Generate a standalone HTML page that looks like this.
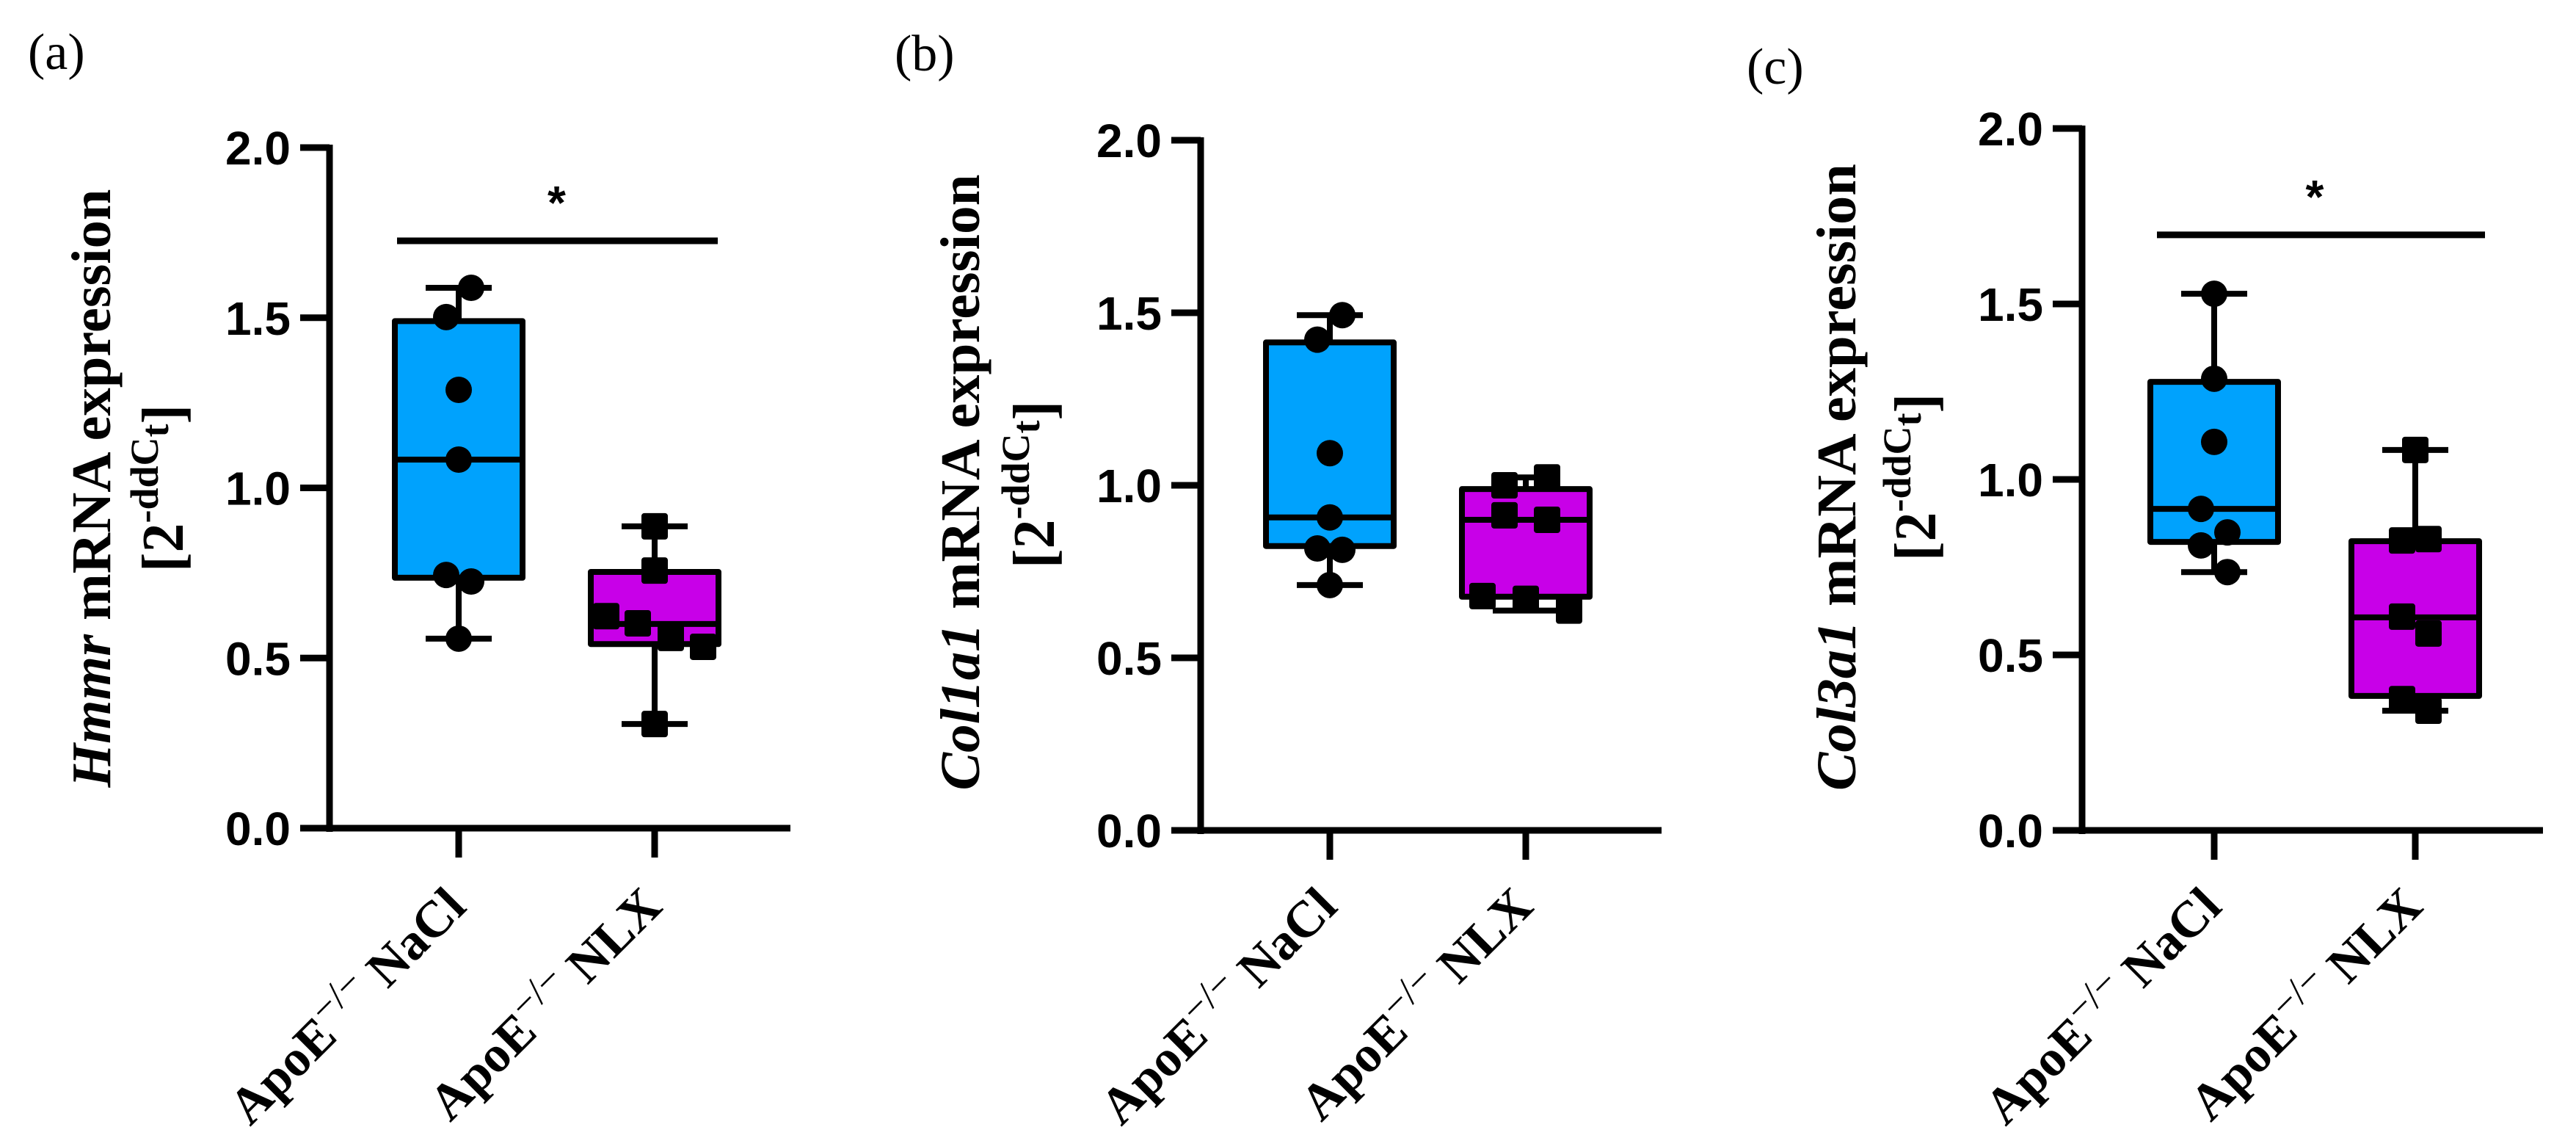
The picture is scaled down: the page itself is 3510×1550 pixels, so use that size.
<!DOCTYPE html>
<html>
<head>
<meta charset="utf-8">
<style>
html,body{margin:0;padding:0;background:#fff;}
svg{display:block;}
.tick{font-family:"Liberation Sans",Arial,sans-serif;font-weight:bold;font-size:64px;}
.ttl{font-family:"Liberation Serif","Times New Roman",serif;font-weight:bold;font-size:76px;}
.sub{font-family:"Liberation Serif","Times New Roman",serif;font-weight:bold;font-size:80px;}
.xl{font-family:"Liberation Serif","Times New Roman",serif;font-weight:bold;font-size:70px;}
.pl{font-family:"Liberation Serif","Times New Roman",serif;font-size:70px;}
</style>
</head>
<body>
<svg id="fig" width="3510" height="1550" viewBox="0 0 3510 1550" xmlns="http://www.w3.org/2000/svg"></svg>
<script>
// ---- data ----
const categories = ["NaCl", "NLX"];
const yTicks = [0, 0.5, 1.0, 1.5, 2.0];
const yTickLabels = ["0.0", "0.5", "1.0", "1.5", "2.0"];

const hmmrNaCl = [1.588, 1.502, 1.288, 1.083, 0.744, 0.725, 0.557];
const hmmrNaClBox = [0.557, 0.736, 1.083, 1.490, 1.588];
const hmmrNLX = [0.887, 0.757, 0.623, 0.602, 0.559, 0.533, 0.306];
const hmmrNLXBox = [0.306, 0.541, 0.600, 0.753, 0.887];

const col1NaCl = [1.493, 1.422, 1.093, 0.907, 0.817, 0.813, 0.711];
const col1NaClBox = [0.711, 0.824, 0.907, 1.414, 1.493];
const col1NLX = [1.000, 1.023, 0.913, 0.900, 0.679, 0.671, 0.637];
const col1NLXBox = [0.637, 0.677, 0.900, 0.989, 1.023];

const col3NaCl = [1.529, 1.287, 1.107, 0.916, 0.849, 0.812, 0.736];
const col3NaClBox = [0.736, 0.822, 0.916, 1.278, 1.529];
const col3NLX = [1.084, 0.826, 0.830, 0.609, 0.561, 0.374, 0.341];
const col3NLXBox = [0.341, 0.383, 0.607, 0.824, 1.084];

const sigA = 1.726;
const sigC = 1.697;

// ---- layout ----
const NS = "http://www.w3.org/2000/svg";
const svg = document.getElementById("fig");
function mk(tag, attrs, parent) {
  const e = document.createElementNS(NS, tag);
  for (const k in attrs) e.setAttribute(k, attrs[k]);
  (parent || svg).appendChild(e);
  return e;
}

const panels = [
  {id:"a", ax:449, y0:1128, unit:463.5, cats:[176,443], title:"Hmmr", ttlOff:-299, ttlY:665, ttlLen:815, subY:665,
   label:[38,94], data:[hmmrNaCl,hmmrNLX], boxes:[hmmrNaClBox,hmmrNLXBox],
   jit:[[17,-17,0,0,-17,17,0],[0,0,-66,-23,22,66,0]], sig:sigA, sigX:[-84,86]},
  {id:"b", ax:1636, y0:1131, unit:470, cats:[176,443], title:"Col1a1", ttlOff:-302, ttlY:657, ttlLen:839, subY:660,
   label:[1219,96], data:[col1NaCl,col1NLX], boxes:[col1NaClBox,col1NLXBox],
   jit:[[17,-17,0,0,-17,17,0],[-29,29,-29,29,-59,0,59]], sig:null},
  {id:"c", ax:2837, y0:1131, unit:478, cats:[180,454], title:"Col3a1", ttlOff:-309, ttlY:650, ttlLen:854, subY:650,
   label:[2380,114], data:[col3NaCl,col3NLX], boxes:[col3NaClBox,col3NLXBox],
   jit:[[0,0,0,-18,18,-18,18],[0,-18,18,-18,18,-18,18]], sig:sigC, sigX:[-78,95]}
];
const fills = ["#00a2fd", "#c800e8"];
const boxW = 174, capW = 90, lw = 8;

panels.forEach(p => {
  const g = mk("g", {});
  
  
  const yS = v => p.y0 - v * p.unit;
  const xS = i => p.ax + p.cats[i];

  const pl = mk("text", {x:p.label[0], y:p.label[1], class:"pl"}, g);
  
  
  pl.textContent = "(" + p.id + ")";

  const ya = mk("line", {x1:p.ax, y1:yS(2) - 4, x2:p.ax, y2:p.y0 + lw/2 + 1, stroke:"#000", "stroke-width":9}, g);
  
  
  const xa = mk("line", {x1:p.ax - 40, y1:p.y0, x2:p.ax + 628, y2:p.y0, stroke:"#000", "stroke-width":9}, g);
  
  
  yTicks.forEach((t, i) => {
    const tl = mk("line", {x1:p.ax - 40, y1:yS(t), x2:p.ax, y2:yS(t), stroke:"#000", "stroke-width":9}, g);
    
    
    const tx = mk("text", {x:p.ax - 53, y:yS(t) + 23, "text-anchor":"end", class:"tick"}, g);
    
    
    tx.textContent = yTickLabels[i];
  });

  const bx = p.ax + p.ttlOff;
  const tt = mk("text", {x:0, y:0, "text-anchor":"middle", class:"ttl", textLength:p.ttlLen, lengthAdjust:"spacingAndGlyphs",
    transform:"translate(" + bx + "," + p.ttlY + ") rotate(-90)"}, g);
  
  
  const ti = mk("tspan", {"font-style":"italic"}, tt);
  ti.textContent = p.title;
  const tr = mk("tspan", {}, tt);
  tr.textContent = " mRNA expression";

  const st = mk("text", {x:0, y:0, "text-anchor":"middle", class:"sub",
    transform:"translate(" + (p.ax - 200) + "," + p.subY + ") rotate(-90)"}, g);
  
  
  const s1 = mk("tspan", {}, st); s1.textContent = "[2";
  const s2 = mk("tspan", {"font-size":"54", dy:"-34"}, st); s2.textContent = "-ddC";
  const s3 = mk("tspan", {"font-size":"54", dy:"14"}, st); s3.textContent = "t";
  const s4 = mk("tspan", {dy:"20"}, st); s4.textContent = "]";

  [0, 1].forEach(i => {
    const cx = xS(i), b = p.boxes[i];
    const xt = mk("line", {x1:cx, y1:p.y0 + 4, x2:cx, y2:p.y0 + 40, stroke:"#000", "stroke-width":9}, g);
    
    

    const wl = mk("line", {x1:cx, y1:yS(b[0]), x2:cx, y2:yS(b[4]), stroke:"#000", "stroke-width":lw}, g);
    
    
    [b[0], b[4]].forEach(v => {
      const c = mk("line", {x1:cx - capW/2, y1:yS(v), x2:cx + capW/2, y2:yS(v), stroke:"#000", "stroke-width":lw}, g);
      
      
    });
    const r = mk("rect", {x:cx - boxW/2, y:yS(b[3]), width:boxW, height:yS(b[1]) - yS(b[3]), fill:fills[i], stroke:"#000", "stroke-width":lw, "stroke-linejoin":"round"}, g);
    
    
    const md = mk("line", {x1:cx - boxW/2, y1:yS(b[2]), x2:cx + boxW/2, y2:yS(b[2]), stroke:"#000", "stroke-width":lw}, g);
    
    

    p.data[i].forEach((v, k) => {
      const px = cx + p.jit[i][k];
      let m;
      if (i === 0) {
        m = mk("circle", {cx:px, cy:yS(v), r:18, fill:"#000"}, g);
      } else {
        m = mk("rect", {x:px - 18, y:yS(v) - 18, width:36, height:36, rx:4, fill:"#000"}, g);
      }
      
      
    });

    const xlt = mk("text", {x:0, y:0, "text-anchor":"end", class:"xl",
      transform:"translate(" + (cx + 13) + ",1238) rotate(-45)"}, g);
    
    
    const a1 = mk("tspan", {}, xlt); a1.textContent = "ApoE";
    const a2 = mk("tspan", {"font-weight":"normal", "font-size":"54", dy:"-26"}, xlt); a2.textContent = "−/−";
    const a3 = mk("tspan", {dy:"26"}, xlt); a3.textContent = " " + categories[i];
  });

  if (p.sig !== null) {
    const sl = mk("line", {x1:xS(0) + p.sigX[0], y1:yS(p.sig), x2:xS(1) + p.sigX[1], y2:yS(p.sig), stroke:"#000", "stroke-width":9}, g);
    
    
    const sx = mk("text", {x:(xS(0) + xS(1)) / 2, y:yS(p.sig) - 30, "text-anchor":"middle", class:"tick", "font-size":"62"}, g);
    
    
    sx.textContent = "*";
  }
});
</script>
</body>
</html>
